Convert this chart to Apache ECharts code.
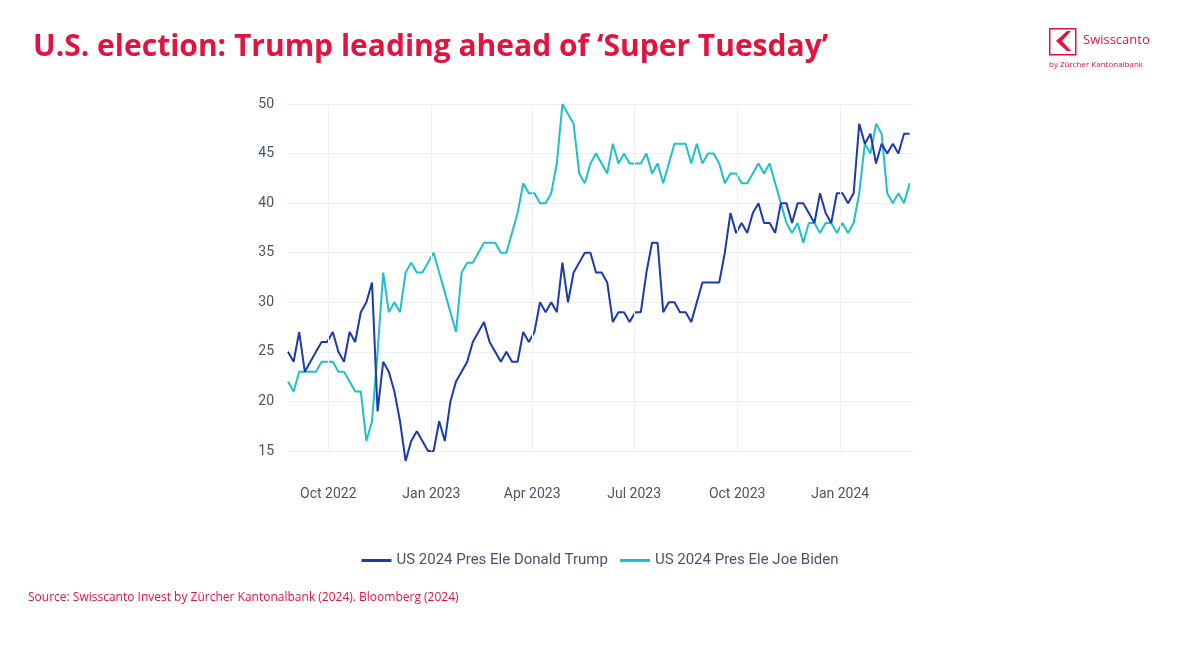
<!DOCTYPE html>
<html>
<head>
<meta charset="utf-8">
<script src="https://cdn.jsdelivr.net/npm/echarts@6/dist/echarts.min.js"></script>
<style>
  html, body { margin: 0; padding: 0; background: #fff; }
  #chart { width: 1200px; height: 671px; }
</style>
</head>
<body>
<div id="chart"></div>
<script>
var dates = [
    '2022-08-26','2022-08-31','2022-09-05','2022-09-10','2022-09-15','2022-09-20','2022-09-25','2022-09-30',
    '2022-10-05','2022-10-10','2022-10-15','2022-10-20','2022-10-25','2022-10-30','2022-11-04','2022-11-09',
    '2022-11-14','2022-11-19','2022-11-24','2022-11-29','2022-12-04','2022-12-09','2022-12-14','2022-12-19',
    '2022-12-24','2022-12-29','2023-01-03','2023-01-08','2023-01-13','2023-01-18','2023-01-23','2023-01-28',
    '2023-02-02','2023-02-07','2023-02-12','2023-02-17','2023-02-22','2023-02-27','2023-03-04','2023-03-09',
    '2023-03-14','2023-03-19','2023-03-24','2023-03-29','2023-04-03','2023-04-08','2023-04-13','2023-04-18',
    '2023-04-23','2023-04-28','2023-05-03','2023-05-08','2023-05-13','2023-05-18','2023-05-23','2023-05-28',
    '2023-06-02','2023-06-07','2023-06-12','2023-06-17','2023-06-22','2023-06-27','2023-07-02','2023-07-07',
    '2023-07-12','2023-07-17','2023-07-22','2023-07-27','2023-08-01','2023-08-06','2023-08-11','2023-08-16',
    '2023-08-21','2023-08-26','2023-08-31','2023-09-05','2023-09-10','2023-09-15','2023-09-20','2023-09-25',
    '2023-09-30','2023-10-05','2023-10-10','2023-10-15','2023-10-20','2023-10-25','2023-10-30','2023-11-04',
    '2023-11-09','2023-11-14','2023-11-19','2023-11-24','2023-11-29','2023-12-04','2023-12-09','2023-12-14',
    '2023-12-19','2023-12-24','2023-12-29','2024-01-03','2024-01-08','2024-01-13','2024-01-18','2024-01-23',
    '2024-01-28','2024-02-02','2024-02-07','2024-02-12','2024-02-17','2024-02-22','2024-02-27','2024-03-03'
];
var trump = [
    25,24,27,23,24,25,26,26, 27,25,24,27,26,29,30,32,
    19,24,23,21,18,14,16,17, 16,15,15,18,16,20,22,23,
    24,26,27,28,26,25,24,25, 24,24,27,26,27,30,29,30,
    29,34,30,33,34,35,35,33, 33,32,28,29,29,28,29,29,
    33,36,36,29,30,30,29,29, 28,30,32,32,32,32,35,39,
    37,38,37,39,40,38,38,37, 40,40,38,40,40,39,38,41,
    39,38,41,41,40,41,48,46, 47,44,46,45,46,45,47,47
];
var biden = [
    22,21,23,23,23,23,24,24, 24,23,23,22,21,21,16,18,
    25,33,29,30,29,33,34,33, 33,34,35,33,31,29,27,33,
    34,34,35,36,36,36,35,35, 37,39,42,41,41,40,40,41,
    44,50,49,48,43,42,44,45, 44,43,46,44,45,44,44,44,
    45,43,44,42,44,46,46,46, 44,46,44,45,45,44,42,43,
    43,42,42,43,44,43,44,42, 40,38,37,38,36,38,38,37,
    38,38,37,38,37,38,41,46, 45,48,47,41,40,41,40,42
];
var quarterLines = ['2022-10-01','2023-01-01','2023-04-01','2023-07-01','2023-10-01','2024-01-01'];
var monthNames = ['Jan','Feb','Mar','Apr','May','Jun','Jul','Aug','Sep','Oct','Nov','Dec'];

var red = '#e2133f';
var myChart = echarts.init(document.getElementById('chart'));

function pairs(vals) {
    return vals.map(function (v, i) { return [dates[i], v]; });
}

var option = {
    animation: false,
    title: {
        text: 'U.S. election: Trump leading ahead of ‘Super Tuesday’',
        left: 28, top: 27,
        textStyle: { color: red, fontSize: 30, fontWeight: 'bold', fontFamily: 'Open Sans' }
    },
    legend: {
        bottom: 98, left: 'center',
        itemWidth: 30, itemHeight: 3, itemGap: 12,
        icon: 'rect',
        textStyle: { color: '#4a5468', fontSize: 15, fontFamily: 'Roboto' },
        data: ['US 2024 Pres Ele Donald Trump', 'US 2024 Pres Ele Joe Biden']
    },
    grid: { left: 288, right: 287, top: 104, bottom: 220 },
    xAxis: {
        type: 'time',
        min: '2022-08-26', max: '2024-03-06',
        minInterval: 28 * 86400000, maxInterval: 31 * 86400000,
        axisLine: { show: false }, axisTick: { show: false },
        splitLine: { show: false },
        axisLabel: {
            margin: 36, color: '#4a5468', fontSize: 14, fontFamily: 'Roboto',
            hideOverlap: false,
            formatter: function (val) {
                var d = new Date(val);
                if (d.getDate() === 1 && d.getMonth() % 3 === 0) {
                    return monthNames[d.getMonth()] + ' ' + d.getFullYear();
                }
                return '';
            }
        }
    },
    yAxis: {
        type: 'value', min: 15, max: 50, interval: 5,
        axisLine: { show: false }, axisTick: { show: false },
        axisLabel: { margin: 14, color: '#4a5468', fontSize: 14, fontFamily: 'Roboto' },
        splitLine: { lineStyle: { color: '#eef0f3' } }
    },
    series: [
        {
            name: 'US 2024 Pres Ele Donald Trump', type: 'line', showSymbol: false,
            data: pairs(trump), z: 3, clip: false,
            itemStyle: { color: '#1a3aad' }, lineStyle: { width: 2, color: '#1a3aad' },
            markLine: {
                silent: true, symbol: 'none', label: { show: false },
                lineStyle: { color: '#eef0f3', type: 'solid', width: 1 },
                data: quarterLines.map(function (q) { return { xAxis: q }; })
            }
        },
        {
            name: 'US 2024 Pres Ele Joe Biden', type: 'line', showSymbol: false,
            data: pairs(biden), z: 2, clip: false,
            itemStyle: { color: '#1ec0cc' }, lineStyle: { width: 2, color: '#1ec0cc' }
        }
    ],
    graphic: [
        { type: 'text', left: 28, top: 592,
          style: { text: 'Source: Swisscanto Invest by Zürcher Kantonalbank (2024). Bloomberg (2024)',
                   fill: red, fontSize: 12, fontFamily: 'Open Sans' } },
        { type: 'rect', left: 1049, top: 28, shape: { width: 26, height: 26 },
          style: { fill: '#fff', stroke: red, lineWidth: 1.5 } },
        { type: 'polygon', shape: { points: [[1067,31],[1056,41],[1067,51],[1071,51],[1062,41],[1071,31]] },
          style: { fill: red } },
        { type: 'text', left: 1083, top: 34,
          style: { text: 'Swisscanto', fill: red, fontSize: 13, fontFamily: 'Open Sans' } },
        { type: 'text', left: 1049, top: 61,
          style: { text: 'by Zürcher Kantonalbank', fill: red, fontSize: 8, fontFamily: 'Open Sans' } }
    ]
};
myChart.setOption(option);
</script>
</body>
</html>
